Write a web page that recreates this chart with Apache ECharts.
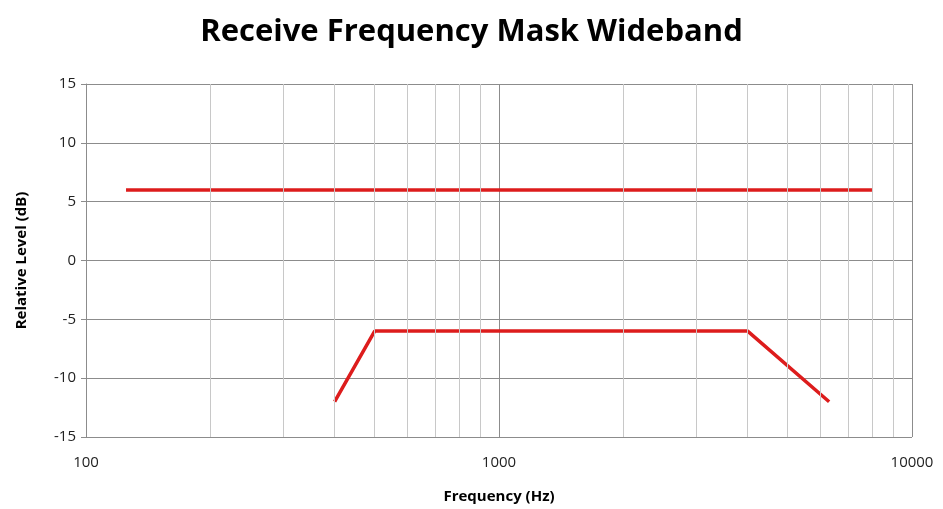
<html>
    <head>
        <meta charset="utf-8">
        <script src='https://cdn.jsdelivr.net/npm/echarts@6/dist/echarts.min.js'></script>
    </head>
    <body>
        <style>
            html, body{
                width: 100%;
                height: 100%;
                margin: 0;
                background: #fff;
            }
            #main{ width: 943px; height: 509px; }
        </style>
        <div id='main'></div>
        <script>
            // upper limit line
            var upperFreq = [125, 8000];
            var upperLevel = [6, 6];
            // lower limit line
            var lowerFreq = [400, 500, 4000, 6300];
            var lowerLevel = [-12, -6, -6, -12];
            // minor vertical grid lines (log decades)
            var minorGrid = [200, 300, 400, 500, 600, 700, 800, 900,
                             2000, 3000, 4000, 5000, 6000, 7000, 8000, 9000];

            function zip(a, b){
                var out = [];
                for (var i = 0; i < a.length; i++) out.push([a[i], b[i]]);
                return out;
            }

            var font = '"Open Sans", sans-serif';
            var chart = echarts.init(document.getElementById('main'));
            var option = {
                animation: false,
                title: {
                    text: 'Receive Frequency Mask Wideband',
                    left: 'center',
                    top: 12,
                    textStyle: { fontFamily: font, fontSize: 31, fontWeight: 'bold', color: '#000' }
                },
                grid: { left: 86, right: 31, top: 84, bottom: 67 },
                xAxis: {
                    type: 'log',
                    logBase: 10,
                    min: 100,
                    max: 10000,
                    name: 'Frequency (Hz)',
                    nameLocation: 'middle',
                    nameGap: 52,
                    nameTextStyle: { fontFamily: font, fontSize: 15, fontWeight: 'bold', color: '#000' },
                    axisLine: { lineStyle: { color: '#8c8c8c', width: 1 } },
                    axisTick: { show: true, length: 5, lineStyle: { color: '#8c8c8c' } },
                    axisLabel: {
                        fontFamily: font, fontSize: 15, color: '#222', margin: 18,
                        formatter: function (v) { return String(Math.round(v)); }
                    },
                    splitLine: { show: true, lineStyle: { color: '#8c8c8c', width: 1 } }
                },
                yAxis: {
                    type: 'value',
                    min: -15,
                    max: 15,
                    interval: 5,
                    name: 'Relative Level (dB)',
                    nameLocation: 'middle',
                    nameGap: 57,
                    nameTextStyle: { fontFamily: font, fontSize: 15, fontWeight: 'bold', color: '#000' },
                    axisLine: { show: true, lineStyle: { color: '#8c8c8c', width: 1 } },
                    axisTick: { show: true, length: 5, lineStyle: { color: '#8c8c8c' } },
                    axisLabel: { fontFamily: font, fontSize: 15, color: '#222', margin: 10 },
                    splitLine: { show: true, lineStyle: { color: '#8c8c8c', width: 1 } }
                },
                series: [
                    {
                        type: 'line',
                        data: zip(upperFreq, upperLevel),
                        symbol: 'none',
                        lineStyle: { color: '#dd1c1c', width: 3.5 },
                        markLine: {
                            silent: true,
                            symbol: 'none',
                            label: { show: false },
                            lineStyle: { color: '#c8c8c8', width: 1, type: 'solid' },
                            data: minorGrid.map(function (v) { return { xAxis: v }; })
                        },
                        z: 3
                    },
                    {
                        type: 'line',
                        data: zip(lowerFreq, lowerLevel),
                        symbol: 'none',
                        lineStyle: { color: '#dd1c1c', width: 3.5 },
                        z: 3
                    }
                ]
            };
            chart.setOption(option);
            window.onresize = chart.resize;
        </script>
    </body>
</html>
